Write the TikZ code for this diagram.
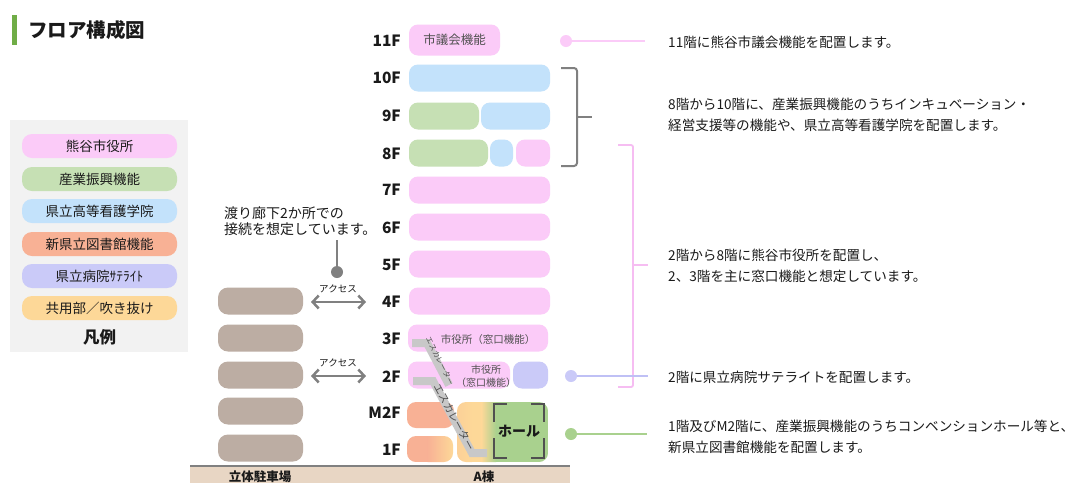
\documentclass[tikz,border=0pt]{standalone}
\usepackage{fontspec}
\setmainfont{Noto Sans CJK JP}
\usetikzlibrary{arrows.meta}
\definecolor{cpink}{HTML}{FBCBF8}
\definecolor{cgreen}{HTML}{C6E0B4}
\definecolor{cblue}{HTML}{C3E2FB}
\definecolor{corange}{HTML}{F8B195}
\definecolor{cpurple}{HTML}{CACAF8}
\definecolor{cyellow}{HTML}{FDD898}
\definecolor{cpark}{HTML}{BCADA3}
\definecolor{chall}{HTML}{A9D18E}
\definecolor{cground}{HTML}{E8D6C4}
\definecolor{clegbg}{HTML}{F2F2F2}
\definecolor{ctitle}{HTML}{70AD47}
\definecolor{cgrey}{HTML}{808080}
\definecolor{cdark}{HTML}{505050}
\definecolor{cesc}{HTML}{C8C8C8}
\definecolor{ctxt}{HTML}{1A1A1A}
\definecolor{cpinkline}{HTML}{F6BDF2}
\definecolor{cpurpline}{HTML}{BFC0F5}
\newcommand\fs[2]{\fontsize{#1}{#2}\selectfont}
\begin{document}
\begin{tikzpicture}[x=1pt,y=-1pt,
  bar/.style={rectangle,rounded corners=9pt,inner sep=0pt,minimum height=27pt},
  leg/.style={rectangle,rounded corners=10pt,inner sep=0pt,minimum height=24pt,minimum width=155pt,text=ctxt,font=\fs{13.5}{15}},
  park/.style={rectangle,rounded corners=10pt,inner sep=0pt,minimum height=27pt,minimum width=85pt,fill=cpark},
  flab/.style={anchor=east,inner sep=0pt,text=ctxt,font=\fs{15.5}{15.5}\bfseries},
  rtxt/.style={anchor=west,inner sep=0pt,align=left,text=ctxt,font=\fs{13.6}{21}},
  dot/.style={circle,inner sep=0pt,minimum size=12pt},
  acc/.style={{Straight Barb[length=6pt,width=13pt]}-{Straight Barb[length=6pt,width=13pt]},line width=2.5pt,draw=cgrey},
  small/.style={inner sep=0pt,text=cdark,font=\fs{9.5}{11}}]
\useasboundingbox (0,0) rectangle (1086,483);
\fill[white] (0,0) rectangle (1086,483);

% title
\fill[ctitle] (12,15) rectangle (17,45);
\node[anchor=west,inner sep=0pt,text=ctxt,font=\fs{19.5}{19.5}\bfseries] (title) at (28,30) {フロア構成図};

% legend
\fill[clegbg] (10,120) rectangle (188,352);
\node[leg,fill=cpink] (lg1) at (99.5,146) {熊谷市役所};
\node[leg,fill=cgreen] (lg2) at (99.5,179) {産業振興機能};
\node[leg,fill=cblue] (lg3) at (99.5,211) {県立高等看護学院};
\node[leg,fill=corange] (lg4) at (99.5,244) {新県立図書館機能};
\node[leg,fill=cpurple] (lg5) at (99.5,276) {県立病院ｻﾃﾗｲﾄ};
\node[leg,fill=cyellow] (lg6) at (99.5,308) {共用部／吹き抜け};
\node[inner sep=0pt,text=ctxt,font=\fs{16.5}{16.5}\bfseries] (lgt) at (99.5,337) {凡例};

% floor labels
\node[flab] (l11) at (401,41) {11F};
\node[flab] (l10) at (401,78) {10F};
\node[flab] (l9) at (401,116) {9F};
\node[flab] (l8) at (401,154) {8F};
\node[flab] (l7) at (401,190) {7F};
\node[flab] (l6) at (401,228) {6F};
\node[flab] (l5) at (401,265) {5F};
\node[flab] (l4) at (401,302) {4F};
\node[flab] (l3) at (401,339) {3F};
\node[flab] (l2) at (401,377) {2F};
\node[flab] (lm2) at (401,413) {M2F};
\node[flab] (l1) at (401,450) {1F};

% floor bars
\node[bar,fill=cpink,minimum width=91pt,minimum height=31pt] (f11) at (454.5,40) {\fs{12.5}{14}\color{cdark}市議会機能};
\node[bar,fill=cblue,minimum width=141pt] (f10) at (479.5,78) {};
\node[bar,fill=cgreen,minimum width=70pt] (f9a) at (444,116) {};
\node[bar,fill=cblue,minimum width=69pt] (f9b) at (515.5,116) {};
\node[bar,fill=cgreen,minimum width=79pt] (f8a) at (448.5,153) {};
\node[bar,fill=cblue,minimum width=23pt] (f8b) at (501.5,153) {};
\node[bar,fill=cpink,minimum width=34pt] (f8c) at (533,153) {};
\node[bar,fill=cpink,minimum width=141pt] (f7) at (479.5,190) {};
\node[bar,fill=cpink,minimum width=141pt] (f6) at (479.5,227) {};
\node[bar,fill=cpink,minimum width=141pt] (f5) at (479.5,264) {};
\node[bar,fill=cpink,minimum width=141pt] (f4) at (479.5,301) {};
\node[bar,fill=cpink,minimum width=140pt] (f3) at (478,338) {};
\node[small,font=\fs{10.5}{12}] (f3t) at (488,340) {市役所（窓口機能）};
\node[bar,fill=cpink,minimum width=102pt] (f2a) at (459,375) {};
\node[small,align=center,font=\fs{10}{13}] (f2t) at (486,376) {市役所\\（窓口機能）};
\node[bar,fill=cpurple,minimum width=35pt] (f2b) at (530.5,375) {};
\node[bar,fill=corange,minimum width=47pt,minimum height=26pt] (fm2) at (430.5,415) {};
% 1F orange-yellow
\begin{scope}
  \clip[rounded corners=9pt] (407,436) rectangle (453,462);
  \fill[corange] (407,436) rectangle (428,462);
  \shade[left color=corange,right color=cyellow] (427.5,436) rectangle (453,462);
\end{scope}
\node[inner sep=0pt,minimum width=46pt,minimum height=26pt] (f1a) at (430,449) {};
% hall area
\begin{scope}
  \clip[rounded corners=9pt] (457,402) rectangle (548,462);
  \shade[left color=cyellow!80!corange,right color=cyellow] (457,402) rectangle (472,462);
  \fill[cyellow] (471.5,402) rectangle (482,462);
  \shade[left color=cyellow,right color=chall] (481.5,402) rectangle (496,462);
  \fill[chall] (495.5,402) rectangle (548,462);
\end{scope}
\node[inner sep=0pt,text=ctxt,font=\fs{14}{14}\bfseries] (hall) at (519,431) {ホール};
\begin{scope}[draw=cdark,line width=2.5pt]
  \draw (494,422) -- (494,404) -- (507,404);
  \draw (531,404) -- (544,404) -- (544,422);
  \draw (494,438) -- (494,458) -- (507,458);
  \draw (531,458) -- (544,458) -- (544,438);
\end{scope}

% escalators
\draw[cesc,line width=8pt] (412,343) -- (427,343) -- (449,385);
\draw[cesc,line width=8pt] (413,381) -- (433,381) -- (472,453) -- (487,453);
\node[inner sep=0pt,rotate=-63,text=cdark,font=\fs{7.5}{7.5}] (esc1) at (440,361) {エスカレーター};
\node[inner sep=0pt,rotate=-61.5,text=cdark,font=\fs{10.5}{10.5}] (esc2) at (455,417) {エスカレーター};

% parking
\node[park] (p4) at (260.5,301) {};
\node[park] (p3) at (260.5,338) {};
\node[park] (p2) at (260.5,375) {};
\node[park] (pm2) at (260.5,411) {};
\node[park] (p1) at (260.5,448) {};
\coordinate (a4l) at (311,302);
\coordinate (a4r) at (366,302);
\coordinate (a2l) at (311,376);
\coordinate (a2r) at (366,376);
\draw[acc] (a4l) -- (a4r);
\draw[acc] (a2l) -- (a2r);
\node[small,text=ctxt] (acc4) at (338,289) {アクセス};
\node[small,text=ctxt] (acc2) at (338,363) {アクセス};

% bridge note
\node[anchor=west,inner sep=0pt,align=left,text=ctxt,font=\fs{14}{16}] (bridge) at (224,221) {渡り廊下2か所での\\接続を想定しています。};
\node[dot,fill=cgrey] (bdot) at (337,272) {};
\coordinate (btop) at (337,240);
\draw[cgrey,line width=2pt] (btop) -- (bdot);

% ground
\fill[cground] (190,466) rectangle (570,483);
\coordinate (gl) at (190,466);
\coordinate (gr) at (570,466);
\draw[cgrey,line width=2pt] (gl) -- (gr);
\node[inner sep=0pt,text=ctxt,font=\fs{12.5}{12.5}\bfseries] (gpark) at (260,477) {立体駐車場};
\node[inner sep=0pt,text=ctxt,font=\fs{12.5}{12.5}\bfseries] (gA) at (484,477) {A棟};

% right side annotations
\node[dot,fill=cpink] (d11) at (566,41) {};
\coordinate (e11) at (645,41);
\draw[cpink,line width=2pt] (d11) -- (e11);
\node[rtxt] (t11) at (668,42) {11階に熊谷市議会機能を配置します。};

\coordinate (gb1) at (561,68);
\coordinate (gb2) at (577,68);
\coordinate (gb3) at (577,166);
\coordinate (gb4) at (561,166);
\coordinate (gbm) at (577,117);
\coordinate (gbt) at (592,117);
\draw[cgrey,line width=2pt,rounded corners=3pt] (gb1) -- (gb2) -- (gb3) -- (gb4);
\draw[cgrey,line width=2pt] (gbm) -- (gbt);
\node[rtxt] (t8) at (668,115) {8階から10階に、産業振興機能のうちインキュベーション・\\経営支援等の機能や、県立高等看護学院を配置します。};

\coordinate (pb1) at (618,145);
\coordinate (pb2) at (633,145);
\coordinate (pb3) at (633,387);
\coordinate (pb4) at (618,387);
\coordinate (pbm) at (633,265);
\coordinate (pbt) at (648,265);
\draw[cpinkline,line width=1.8pt,rounded corners=2pt] (pb1) -- (pb2) -- (pb3) -- (pb4);
\draw[cpinkline,line width=1.8pt] (pbm) -- (pbt);
\node[rtxt] (t2) at (668,266) {2階から8階に熊谷市役所を配置し、\\2、3階を主に窓口機能と想定しています。};

\node[dot,fill=cpurple] (d2) at (571,376) {};
\coordinate (e2) at (648,376);
\draw[cpurpline,line width=2pt] (d2) -- (e2);
\node[rtxt] (t2b) at (668,377) {2階に県立病院サテライトを配置します。};

\node[dot,fill=chall] (d1) at (571,434) {};
\coordinate (e1) at (647,434);
\draw[chall,line width=2pt] (d1) -- (e1);
\node[rtxt] (t1) at (668,437) {1階及びM2階に、産業振興機能のうちコンベンションホール等と、\\新県立図書館機能を配置します。};
\end{tikzpicture}
\end{document}
